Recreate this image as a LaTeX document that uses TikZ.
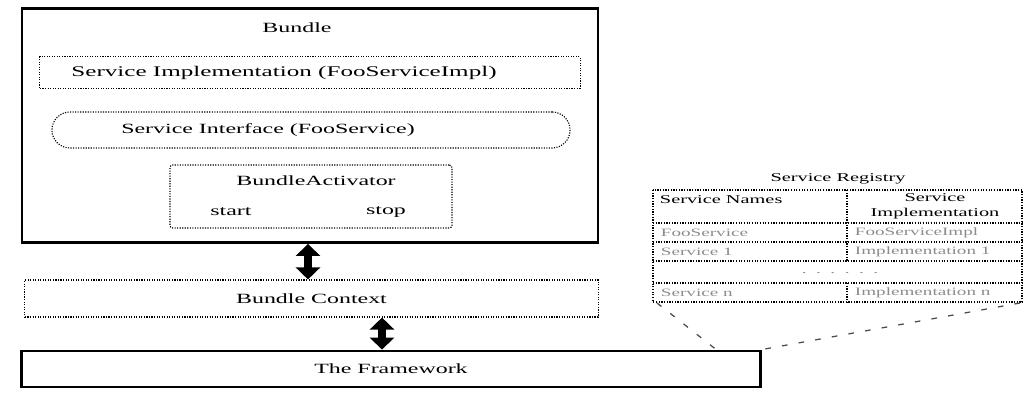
\documentclass[tikz,border=0pt]{standalone}
\usepackage{fontspec}
\setmainfont{Liberation Serif}[FakeStretch=1.7]
\usetikzlibrary{arrows.meta}
\tikzset{
  heavybox/.style={draw, line width=2pt, inner sep=0pt},
  dotbox/.style={draw, densely dotted, line width=0.8pt, inner sep=0pt},
  lbl/.style={font=\fontsize{10}{12}\selectfont},
  tbl/.style={font=\fontsize{8.5}{10.5}\selectfont},
  faint/.style={font=\fontsize{8}{9}\selectfont, text=black!45},
  tabline/.style={densely dotted, line width=0.9pt},
  twoway/.style={{Triangle[length=0.3cm,width=0.6cm]}-{Triangle[length=0.3cm,width=0.6cm]}, line width=5pt},
  zoomline/.style={black!70, line width=0.9pt, dash pattern=on 4pt off 8pt},
}

\begin{document}
\begin{tikzpicture}[x=0.025cm, y=-0.025cm]
\useasboundingbox (0,0) rectangle (1027,394);
% bundle and its parts
\node[heavybox, minimum width=14.4cm, minimum height=5.85cm] (bundle) at (310,125.5) {};
\node[lbl] (bndtitle) at (297,28) {Bundle};
\node[dotbox, minimum width=13.5cm, minimum height=0.78cm] (impl) at (310,72.5) {};
\node[lbl, font=\fontsize{10.5}{12}\selectfont] (impltext) at (284,73) {Service Implementation (FooServiceImpl)};
\node[dotbox, rounded corners=0.45cm, minimum width=12.95cm, minimum height=0.9cm] (iface) at (311,130) {};
\node[lbl] (ifacetext) at (268,130) {Service Interface (FooService)};
\node[dotbox, rounded corners=2pt, minimum width=7.05cm, minimum height=1.575cm] (act) at (311,196.5) {};
\node[lbl] (acttitle) at (316,181) {BundleActivator};
\node[lbl] (start) at (231,212) {start};
\node[lbl] (stop) at (386,212) {stop};
% context and framework
\node[dotbox, lbl, minimum width=14.325cm, minimum height=0.925cm] (ctx) at (311.5,298.5) {Bundle Context};
\node[heavybox, lbl, minimum width=18.45cm, minimum height=0.9cm] (fw) at (391,369) {The Framework};
\coordinate (a1) at (308,0);
\coordinate (a2) at (382,0);
\draw[twoway] (bundle.south -| a1) -- (ctx.north -| a1);
\draw[twoway] (ctx.south -| a2) -- (fw.north -| a2);
% service registry
\node[tbl] (regtitle) at (838,179) {Service Registry};
\draw[tabline] (653,190) rectangle (1022,302);
\draw[tabline] (653,223) -- (1022,223);
\draw[tabline] (653,242) -- (1022,242);
\draw[tabline] (653,261) -- (1022,261);
\draw[tabline] (653,283) -- (1022,283);
\draw[tabline] (847,190) -- (847,261);
\draw[tabline] (847,283) -- (847,302);
\node[tbl, anchor=west] (colname) at (655,200) {Service Names};
\node[tbl, align=center] (colimpl) at (935,206) {Service\\Implementation};
\node[faint, anchor=west] (n1) at (656,232.5) {FooService};
\node[faint, anchor=west] (i1) at (850,232.5) {FooServiceImpl};
\node[faint, anchor=west] (n2) at (656,251.5) {Service 1};
\node[faint, anchor=west] (i2) at (850,251.5) {Implementation 1};
\node[faint] (gap) at (840,273) {.\ \ .\ \ .\ \ .\ \ .\ \ .};
\node[faint, anchor=west] (n3) at (656,292.5) {Service n};
\node[faint, anchor=west] (i3) at (850,292.5) {Implementation n};
% callout to the framework
\coordinate (regsw) at (657,303);
\coordinate (regse) at (1020,303);
\coordinate (fwpart) at (718,351);
\draw[zoomline] (regsw) -- (fwpart);
\draw[zoomline] (regse) -- (fw.north east);
\end{tikzpicture}
\end{document}
